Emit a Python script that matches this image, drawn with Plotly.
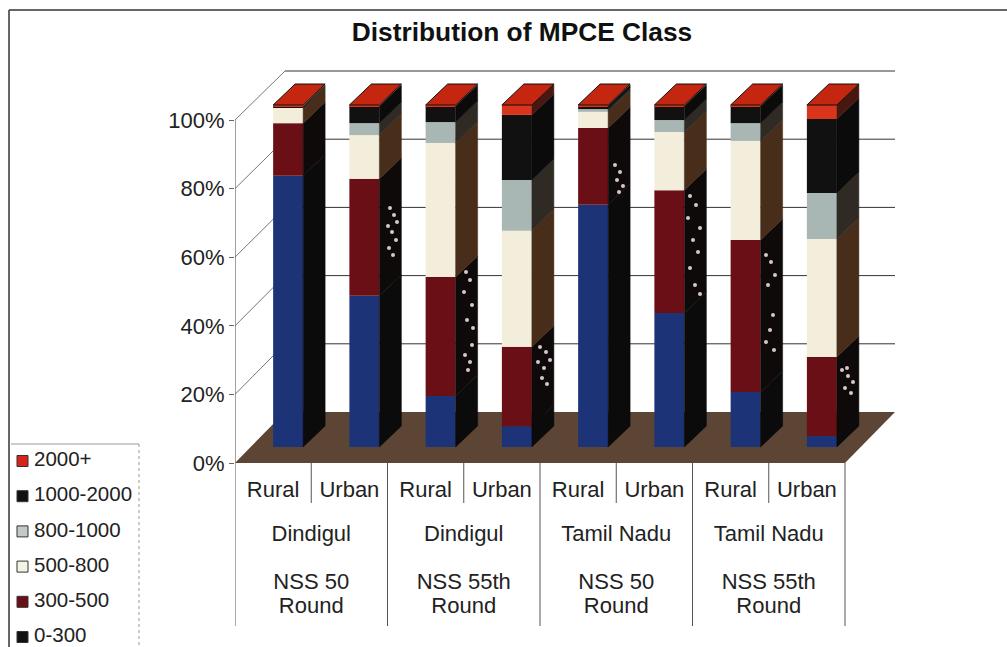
import plotly.graph_objects as go

W, H = 1007, 647
classes = ["0-300", "300-500", "500-800", "800-1000", "1000-2000", "2000+"]
tick_labels = ["Rural", "Urban"] * 4
group_top = ["Dindigul", "Dindigul", "Tamil Nadu", "Tamil Nadu"]
group_mid = ["NSS 50", "NSS 55th", "NSS 50", "NSS 55th"]
group_low = ["Round", "Round", "Round", "Round"]

v_0_300 = [79.3, 44.2, 14.9, 6.1, 70.8, 39.2, 16.1, 3.2]
v_300_500 = [15.4, 34.2, 34.8, 23.2, 22.5, 35.9, 44.4, 23.1]
v_500_800 = [4.7, 12.8, 39.2, 33.9, 4.7, 17.0, 29.0, 34.5]
v_800_1000 = [0.0, 3.5, 6.1, 14.9, 0.8, 3.5, 5.2, 13.5]
v_1000_2000 = [0.3, 5.0, 4.7, 19.0, 0.9, 4.1, 5.0, 21.6]
v_2000 = [0.3, 0.3, 0.3, 2.9, 0.3, 0.3, 0.3, 4.1]
series = [v_0_300, v_300_500, v_500_800, v_800_1000, v_1000_2000, v_2000]

# scan blemishes on the dark side faces, as seen on the page
blemish_x = [390, 394, 388, 392, 396, 389, 393, 397,
             466, 470, 464, 472, 467, 472, 465, 470, 468, 473,
             540, 546, 538, 544, 550, 542, 547,
             615, 620, 617, 623, 619,
             690, 696, 688, 700, 693, 698, 690, 695, 700,
             766, 771, 775, 768, 773, 770, 766, 774,
             842, 848, 853, 845, 851, 847]
blemish_y = [208, 215, 226, 232, 240, 248, 255, 222,
             272, 280, 292, 305, 320, 345, 355, 362, 370, 328,
             347, 352, 362, 368, 360, 378, 384,
             165, 172, 180, 186, 192,
             196, 205, 218, 228, 240, 252, 268, 285, 294,
             255, 262, 275, 285, 315, 330, 342, 350,
             370, 376, 382, 388, 393, 368]

front = ["#1c3378", "#6b0f16", "#f2eedb", "#a8b7b4", "#111111", "#d8351c"]
side = ["#0b0b0b", "#0f0a0a", "#472d1a", "#2f2b24", "#0b0b0b", "#4a1610"]
legend_col = ["#111111", "#6b0f16", "#f2f4e4", "#c4c8c8", "#111111", "#d8251c"]
top_col = "#c4260f"

# scale of the pseudo-3D projection (pixels per axis unit)
PX_X, PX_Y = 76.25, 3.43
X0, Y0, X1, Y1 = 235, 463, 900, 66      # plot box in page pixels
xmax, ymax = (X1 - X0) / PX_X, (Y0 - Y1) / PX_Y
ux, uy = lambda p: p / PX_X, lambda p: p / PX_Y
SHIFT_X, FLOOR = ux(15), uy(16)
BAR_W = ux(30)
DX, DY = ux(22), uy(21)
BACK_X, BACK_Y = ux(50), uy(51)
SCALE = 342 / 343.0
BACK_SCALE = 341 / 343.0
paper_y = lambda p: (H - p) / H

fig = go.Figure()
cats = [i + 0.5 + SHIFT_X for i in range(8)]

cum = [0.0] * 8
for name, vals, fc, sc in zip(classes, series, front, side):
    base = [FLOOR + c * SCALE for c in cum]
    fig.add_bar(x=cats, y=[v * SCALE for v in vals], base=base, width=BAR_W,
                marker=dict(color=fc, line=dict(width=0)), showlegend=False, name=name)
    xs, ys = [], []
    for x, b, v in zip(cats, base, vals):
        r = x + BAR_W / 2
        t = b + v * SCALE
        xs += [r, r + DX, r + DX, r, r, None]
        ys += [b, b + DY, t + DY, t, b, None]
    fig.add_scatter(x=xs, y=ys, mode="lines", fill="toself", fillcolor=sc,
                    line=dict(width=0.5, color=sc), showlegend=False, hoverinfo="skip")
    cum = [c + v for c, v in zip(cum, vals)]

xs, ys = [], []
for x, c in zip(cats, cum):
    l, r = x - BAR_W / 2, x + BAR_W / 2
    t = FLOOR + c * SCALE
    xs += [l, r, r + DX, l + DX, l, None]
    ys += [t, t, t + DY, t + DY, t, None]
fig.add_scatter(x=xs, y=ys, mode="lines", fill="toself", fillcolor=top_col,
                line=dict(width=1, color="#111111"), showlegend=False, hoverinfo="skip")

shapes = []
def line(x0, y0, x1, y1, c="#555555", w=1, d="solid", xr="x", yr="y"):
    return dict(type="line", x0=x0, y0=y0, x1=x1, y1=y1, xref=xr, yref=yr, layer="below",
                line=dict(color=c, width=w, dash=d))

# floor
shapes.append(dict(type="path", xref="x", yref="y", layer="below", line=dict(width=0), fillcolor="#5d4535",
                   path=f"M 0 0 L 8 0 L {8 + BACK_X} {BACK_Y} L {BACK_X} {BACK_Y} Z"))
ticks = [0, 20, 40, 60, 80, 100]
for t in ticks[1:]:
    gy = BACK_Y + t * BACK_SCALE
    shapes.append(line(BACK_X, gy, 8 + BACK_X, gy, "#333333", 1))
    shapes.append(line(0, t, BACK_X, gy, "#777777", 1))
shapes.append(line(0, 0, 0, 100, "#444444", 1))
# category table rules
for i in range(9):
    shapes.append(line(i, paper_y(463), i, paper_y(626 if i % 2 == 0 else 503), "#555555", 1, yr="paper"))
# outer frame and legend box
shapes.append(line(9 / W, paper_y(10), 1, paper_y(10), "#333333", 1.5, xr="paper", yr="paper"))
shapes.append(line(9 / W, paper_y(10), 9 / W, 0, "#333333", 1.5, xr="paper", yr="paper"))
shapes.append(line(11 / W, paper_y(444), 139 / W, paper_y(444), "#999999", 1, xr="paper", yr="paper"))
shapes.append(line(139 / W, paper_y(444), 139 / W, 0, "#999999", 1, "dot", xr="paper", yr="paper"))

# blemishes, on a page-sized overlay axis pair
fig.add_scatter(x=blemish_x, y=blemish_y, xaxis="x2", yaxis="y2", mode="markers", showlegend=False, hoverinfo="skip",
                marker=dict(symbol="circle", size=4, color="#d8c6cc", line=dict(width=0)))

# group labels
group_x = [X0 + (2 * i + 1) * PX_X for i in range(4)]
for names, row_y in ((group_top, 535), (group_mid, 583), (group_low, 607)):
    fig.add_scatter(x=group_x, y=[row_y] * 4, xaxis="x2", yaxis="y2", mode="text", showlegend=False, hoverinfo="skip",
                    text=names, textposition="middle center", textfont=dict(size=22))

# key, top to bottom
key_names = classes[::-1]
key_y = [461 + k * 35.2 for k in range(len(key_names))]
fig.add_scatter(x=[22.5] * 6, y=key_y, xaxis="x2", yaxis="y2", mode="markers", showlegend=False, hoverinfo="skip",
                marker=dict(symbol="square", size=11, color=legend_col[::-1], line=dict(color="#333333", width=1)))
fig.add_scatter(x=[34] * 6, y=key_y, xaxis="x2", yaxis="y2", mode="text", showlegend=False, hoverinfo="skip",
                text=key_names, textposition="middle right", textfont=dict(size=20.5))

fig.update_layout(
    width=W, height=H, margin=dict(l=0, r=0, t=0, b=0, autoexpand=False), paper_bgcolor="white", plot_bgcolor="rgba(0,0,0,0)",
    barmode="overlay", font=dict(family="Liberation Sans, Arial, sans-serif", size=20, color="#222222"),
    title=dict(text="<b>Distribution of MPCE Class</b>", x=522 / W, xanchor="center", y=paper_y(32), yanchor="middle",
               font=dict(size=26.3, color="#111111")),
    xaxis=dict(domain=[X0 / W, X1 / W], range=[0, xmax], showgrid=False, zeroline=False,
               tickmode="array", tickvals=[i + 0.5 for i in range(8)], ticktext=tick_labels,
               ticks="", ticklabelstandoff=11, tickfont=dict(size=22), showline=False, fixedrange=True),
    yaxis=dict(domain=[paper_y(Y0), paper_y(Y1)], range=[0, ymax], showgrid=False, zeroline=False,
               tickmode="array", tickvals=ticks, ticktext=[f"{t}%" for t in ticks],
               ticks="outside", ticklen=5, tickcolor="#666666", tickfont=dict(size=22), showline=False, fixedrange=True),
    xaxis2=dict(domain=[0, 1], range=[0, W], visible=False, anchor="y2", fixedrange=True),
    yaxis2=dict(domain=[0, 1], range=[H, 0], visible=False, anchor="x2", fixedrange=True),
    shapes=shapes, showlegend=False,
    hovermode=False,
)
fig.write_html("out.html", config={"displayModeBar": False},
               post_script="document.body.style.margin='0';document.body.style.overflow='hidden';")
